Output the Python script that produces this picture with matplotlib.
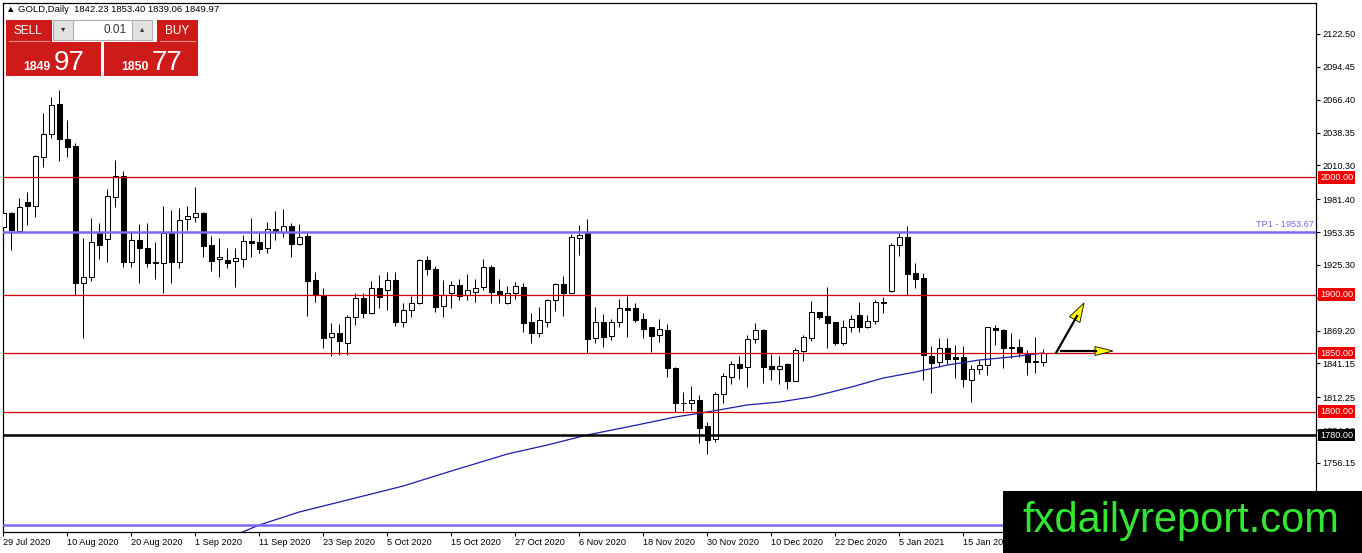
import matplotlib.pyplot as plt
from matplotlib.patches import Rectangle, Polygon
from matplotlib.lines import Line2D
from matplotlib.transforms import Affine2D, blended_transform_factory

# daily candles, 29 Jul 2020 .. end of Jan 2021
opens = [1957.7, 1969.4, 1954.5, 1979.0, 1975.9, 2017.7, 2036.9, 2062.7, 2032.6, 2026.9,
         1910.1, 1915.3, 1952.8, 1947.2, 1983.6, 2001.2, 1928.1, 1946.6, 1939.5, 1927.8,
         1927.2, 1952.8, 1928.1, 1964.8, 1966.5, 1969.4, 1942.3, 1930.1, 1929.5, 1928.4,
         1930.6, 1945.7, 1944.9, 1939.5, 1955.7, 1953.7, 1958.5, 1942.9, 1950.0, 1912.4,
         1899.6, 1864.0, 1866.9, 1858.9, 1880.6, 1896.8, 1884.5, 1905.3, 1903.9, 1912.4,
         1876.8, 1886.8, 1892.5, 1929.5, 1921.5, 1890.5, 1901.0, 1908.2, 1899.6, 1902.4,
         1906.3, 1923.3, 1903.0, 1892.5, 1901.0, 1906.3, 1876.3, 1866.9, 1876.3, 1895.3,
         1908.7, 1901.6, 1948.0, 1952.8, 1862.6, 1876.3, 1864.6, 1876.3, 1888.3, 1888.3,
         1879.1, 1872.0, 1865.5, 1869.7, 1837.5, 1807.8, 1807.1, 1809.9, 1788.0, 1776.4,
         1814.8, 1829.3, 1840.7, 1837.8, 1861.8, 1869.7, 1838.9, 1836.1, 1840.7, 1826.4,
         1852.1, 1862.6, 1884.8, 1881.7, 1876.5, 1858.9, 1872.0, 1882.5, 1872.5, 1877.4,
         1893.9, 1903.0, 1942.3, 1948.9, 1918.7, 1913.9, 1847.5, 1842.7, 1854.1, 1846.4,
         1846.4, 1827.0, 1836.1, 1839.8, 1871.2, 1869.7, 1855.5, 1855.5, 1849.2, 1843.3,
         1842.23]
highs = [1979.0, 1970.7, 1982.2, 1987.8, 2019.2, 2054.8, 2069.0, 2074.7, 2049.1, 2029.2,
         1948.0, 1965.1, 1960.8, 1989.9, 2014.9, 2005.8, 1953.7, 1960.2, 1960.8, 1945.1,
         1975.6, 1972.2, 1973.6, 1975.6, 1992.1, 1970.7, 1950.0, 1948.0, 1940.0, 1939.5,
         1950.9, 1965.6, 1952.3, 1962.2, 1971.6, 1972.8, 1960.8, 1960.2, 1953.7, 1919.5,
         1905.3, 1875.9, 1874.8, 1882.5, 1901.0, 1901.6, 1911.6, 1916.4, 1919.0, 1919.5,
         1892.5, 1898.7, 1930.5, 1932.9, 1924.4, 1912.4, 1911.8, 1913.0, 1917.5, 1913.0,
         1930.1, 1925.2, 1913.0, 1907.3, 1911.0, 1910.1, 1884.0, 1889.1, 1895.9, 1910.1,
         1915.8, 1951.7, 1959.4, 1964.5, 1889.1, 1883.4, 1878.9, 1895.9, 1898.7, 1892.5,
         1884.0, 1872.5, 1878.9, 1874.8, 1838.4, 1816.5, 1821.9, 1814.2, 1791.4, 1817.0,
         1833.2, 1843.2, 1847.5, 1865.4, 1875.4, 1870.3, 1849.2, 1847.5, 1841.5, 1854.1,
         1865.4, 1894.7, 1885.5, 1906.7, 1876.8, 1878.3, 1882.5, 1893.9, 1882.5, 1895.3,
         1898.2, 1943.7, 1952.3, 1958.5, 1926.7, 1918.7, 1855.8, 1863.1, 1862.6, 1856.9,
         1856.0, 1839.8, 1844.1, 1872.5, 1874.0, 1870.3, 1866.9, 1861.8, 1852.6, 1864.0,
         1853.40]
lows = [1940.6, 1938.0, 1953.0, 1959.4, 1966.5, 2008.7, 2033.4, 2014.3, 2017.7, 1899.6,
        1862.6, 1911.6, 1930.4, 1928.1, 1975.0, 1923.8, 1923.8, 1910.1, 1923.3, 1913.3,
        1901.6, 1909.6, 1922.4, 1955.1, 1962.2, 1931.8, 1920.4, 1915.3, 1922.9, 1906.3,
        1923.3, 1931.8, 1935.7, 1935.7, 1946.6, 1948.9, 1931.8, 1942.3, 1881.7, 1893.9,
        1854.1, 1847.8, 1848.4, 1848.4, 1874.0, 1879.7, 1883.4, 1888.3, 1886.8, 1873.1,
        1872.3, 1881.1, 1891.5, 1916.7, 1885.4, 1881.1, 1888.3, 1895.3, 1895.3, 1893.9,
        1903.9, 1893.0, 1893.0, 1891.9, 1895.9, 1868.3, 1858.9, 1863.5, 1872.5, 1886.2,
        1881.7, 1901.0, 1933.8, 1849.8, 1858.9, 1855.5, 1861.2, 1872.0, 1863.5, 1876.8,
        1863.1, 1851.2, 1859.7, 1829.8, 1799.4, 1800.5, 1801.4, 1773.5, 1763.6, 1774.3,
        1807.1, 1823.3, 1827.6, 1821.3, 1858.9, 1824.7, 1827.0, 1823.3, 1819.1, 1826.0,
        1843.2, 1860.3, 1878.9, 1854.1, 1856.9, 1856.9, 1868.3, 1868.3, 1871.2, 1874.8,
        1884.5, 1902.4, 1932.9, 1899.6, 1905.3, 1827.0, 1816.2, 1837.8, 1840.7, 1828.5,
        1821.3, 1808.5, 1832.1, 1831.3, 1856.9, 1837.0, 1845.5, 1846.4, 1831.3, 1833.3,
        1839.06]
closes = [1969.6, 1955.1, 1974.5, 1975.6, 2018.3, 2037.1, 2061.9, 2033.1, 2026.3, 1910.1,
          1915.3, 1944.6, 1942.5, 1984.2, 2001.2, 1928.1, 1946.6, 1939.5, 1927.2, 1927.2,
          1952.8, 1928.1, 1963.6, 1967.1, 1969.4, 1941.7, 1928.9, 1932.3, 1927.2, 1931.0,
          1945.7, 1944.3, 1939.2, 1955.7, 1953.7, 1958.5, 1942.9, 1948.9, 1911.8, 1899.6,
          1862.6, 1866.9, 1860.6, 1880.6, 1896.8, 1884.5, 1905.3, 1898.2, 1912.4, 1876.8,
          1886.8, 1892.5, 1929.5, 1921.5, 1889.6, 1899.6, 1908.2, 1898.7, 1903.9, 1905.3,
          1923.3, 1902.4, 1899.6, 1901.0, 1907.3, 1875.9, 1866.9, 1878.3, 1895.3, 1908.7,
          1901.6, 1948.9, 1950.9, 1861.8, 1876.3, 1864.0, 1876.3, 1888.3, 1886.8, 1878.3,
          1870.8, 1864.6, 1870.6, 1837.0, 1807.1, 1807.2, 1809.9, 1786.3, 1775.8, 1814.8,
          1830.4, 1840.7, 1837.5, 1861.8, 1869.7, 1838.4, 1836.1, 1838.9, 1826.4, 1852.6,
          1863.5, 1884.8, 1880.6, 1876.0, 1858.9, 1872.0, 1878.9, 1872.5, 1877.7, 1893.4,
          1892.8, 1942.3, 1948.9, 1917.5, 1913.0, 1848.4, 1841.8, 1854.1, 1844.7, 1844.7,
          1827.6, 1836.1, 1839.8, 1872.0, 1869.7, 1854.6, 1854.6, 1850.3, 1842.7, 1842.7,
          1849.97]

# moving average (read at a few bars)
ma_idx = [29, 32, 37, 42, 50, 56, 63, 68, 73, 78, 84, 88, 93, 97, 101, 106, 110, 114, 118, 122, 126, 130]
ma_val = [1694.6, 1703.2, 1714.3, 1722.8, 1736.5, 1749.3, 1763.8, 1771.5, 1780.1, 1786.9, 1795.4,
          1799.7, 1805.7, 1808.2, 1812.5, 1821.0, 1828.7, 1833.8, 1839.8, 1844.1, 1846.7, 1850.1]

date_idx = [0, 8, 16, 24, 32, 40, 48, 56, 64, 72, 80, 88, 96, 104, 112, 120]
date_labels = ['29 Jul 2020', '10 Aug 2020', '20 Aug 2020', '1 Sep 2020', '11 Sep 2020',
               '23 Sep 2020', '5 Oct 2020', '15 Oct 2020', '27 Oct 2020', '6 Nov 2020',
               '18 Nov 2020', '30 Nov 2020', '10 Dec 2020', '22 Dec 2020', '5 Jan 2021',
               '15 Jan 2021']
price_ticks = [2122.50, 2094.45, 2066.40, 2038.35, 2010.30, 1981.40, 1953.35, 1925.30,
               1897.25, 1869.20, 1841.15, 1812.25, 1784.20, 1756.15]

red_levels = [2000.0, 1900.0, 1850.0, 1800.0]
black_level = 1780.0
tp_level = 1953.67
blue_low_level = 1703.2

W, H = 1362, 553
FONT = 'Liberation Sans'
plt.rcParams['font.family'] = [FONT, 'DejaVu Sans']

fig = plt.figure(figsize=(W / 100, H / 100), dpi=100)
fig.patch.set_facecolor('white')
ax = fig.add_axes([3 / W, (H - 532) / H, 1313 / W, 529 / H])
pix = Affine2D().scale(1 / W, -1 / H).translate(0, 1) + fig.transFigure

# candles
xs = list(range(len(opens)))
ax.vlines(xs, lows, highs, color='black', lw=0.75, zorder=2)
bottoms = [min(o, c) for o, c in zip(opens, closes)]
heights = [abs(c - o) for o, c in zip(opens, closes)]
faces = ['white' if c >= o else 'black' for o, c in zip(opens, closes)]
ax.bar(xs, heights, bottom=bottoms, width=0.62, color=faces, edgecolor='black',
       linewidth=0.75, zorder=3)

ax.plot(ma_idx, ma_val, color='#1c1ca8', lw=0.9, zorder=4)

# horizontal levels
for lv in red_levels:
    ax.axhline(lv, color='#d40000', lw=0.9, zorder=5)
ax.axhline(tp_level, color='#7b68ee', lw=1.8, zorder=5)
ax.axhline(blue_low_level, color='#7b68ee', lw=1.8, zorder=5)
ax.axhline(black_level, color='black', lw=1.8, zorder=5)
ax.text(1.0 - 2 / 1313, tp_level + 2.2, 'TP1 - %.2f' % tp_level, color='#7b68ee',
        fontsize=6.6, ha='right', va='bottom',
        transform=blended_transform_factory(ax.transAxes, ax.transData))

ax.set_xlim(-0.04, 164.09)
ax.set_ylim(1697.21, 2148.97)

ax.yaxis.tick_right()
ax.set_yticks(price_ticks)
ax.set_yticklabels(['%.2f' % p for p in price_ticks], fontsize=6.6)
ax.set_xticks(date_idx)
ax.set_xticklabels(date_labels, fontsize=6.6, ha='left')
ax.tick_params(axis='both', direction='out', length=3, width=0.8, pad=1.5, colors='black')
for sp in ax.spines.values():
    sp.set_color('black')
    sp.set_linewidth(0.9)

# level tags on the price scale
tag_tr = blended_transform_factory(ax.transAxes, ax.transData)
for lv in red_levels:
    ax.text(1.0 + 4 / 1313, lv, '%.2f' % lv, color='white', fontsize=6.6, ha='left', va='center',
            transform=tag_tr, clip_on=False, zorder=6,
            bbox=dict(boxstyle='square,pad=0.2', fc='#ee0000', ec='none'))
ax.text(1.0 + 4 / 1313, black_level, '%.2f' % black_level, color='white', fontsize=6.6,
        ha='left', va='center', transform=tag_tr, clip_on=False, zorder=6,
        bbox=dict(boxstyle='square,pad=0.2', fc='black', ec='none'))

# header text
fig.text(6, 10, '\u25b2 GOLD,Daily  %.2f %.2f %.2f %.2f' % (opens[-1], highs[-1], lows[-1], closes[-1]),
         transform=pix, fontsize=6.8, va='center', ha='left', color='black')

# one-click trading panel
red = '#cf1a1a'
for (x0, y0, w, h) in [(6, 20, 46, 22), (157, 20, 41, 22), (6, 42, 95, 34), (104, 42, 94, 34)]:
    fig.add_artist(Rectangle((x0, y0), w, h, transform=pix, fc=red, ec='none'))
fig.add_artist(Line2D([9, 49], [41, 41], transform=pix, color='#f08a8a', lw=0.8))
fig.add_artist(Line2D([160, 195], [41, 41], transform=pix, color='#f08a8a', lw=0.8))
fig.add_artist(Rectangle((53, 20), 99, 20, transform=pix, fc='white', ec='#b0b0b0', lw=0.8))
fig.add_artist(Rectangle((53, 20), 20, 20, transform=pix, fc='#e1e1e1', ec='#b0b0b0', lw=0.8))
fig.add_artist(Rectangle((132, 20), 20, 20, transform=pix, fc='#e1e1e1', ec='#b0b0b0', lw=0.8))
fig.text(63, 30, '\u25be', transform=pix, fontsize=6, ha='center', va='center', color='#333333')
fig.text(142, 30, '\u25b4', transform=pix, fontsize=6, ha='center', va='center', color='#333333')
fig.text(127, 30, '0.01', transform=pix, fontsize=8.5, ha='right', va='center', color='#333333')
fig.text(28, 31, 'SELL', transform=pix, fontsize=8.5, ha='center', va='center', color='white')
fig.text(177, 31, 'BUY', transform=pix, fontsize=8.5, ha='center', va='center', color='white')
fig.text(23, 70, '1849', transform=pix, fontsize=8.8, fontweight='bold', ha='left', va='baseline', color='white')
fig.text(54, 70, '97', transform=pix, fontsize=20, ha='left', va='baseline', color='white')
fig.text(121, 70, '1850', transform=pix, fontsize=8.8, fontweight='bold', ha='left', va='baseline', color='white')
fig.text(152, 70, '77', transform=pix, fontsize=20, ha='left', va='baseline', color='white')

# arrows
fig.add_artist(Line2D([1056, 1077], [353, 316], transform=pix, color='black', lw=1.6))
fig.add_artist(Polygon([(1084, 303), (1079.9, 322.5), (1069.5, 316.7)], closed=True, transform=pix,
                       fc='#ffff00', ec='black', lw=0.6))
fig.add_artist(Line2D([1061, 1096], [351, 351], transform=pix, color='black', lw=1.6))
fig.add_artist(Polygon([(1113, 351), (1095, 346.5), (1095, 355.5)], closed=True, transform=pix,
                       fc='#ffff00', ec='black', lw=0.6))

# watermark
fig.add_artist(Rectangle((1003, 491), 359, 62, transform=pix, fc='black', ec='none'))
fig.text(1022, 532, 'fxdailyreport.com', transform=pix, fontsize=30, ha='left', va='baseline',
         color='#33e633')

fig.savefig('out.png', dpi=100)
